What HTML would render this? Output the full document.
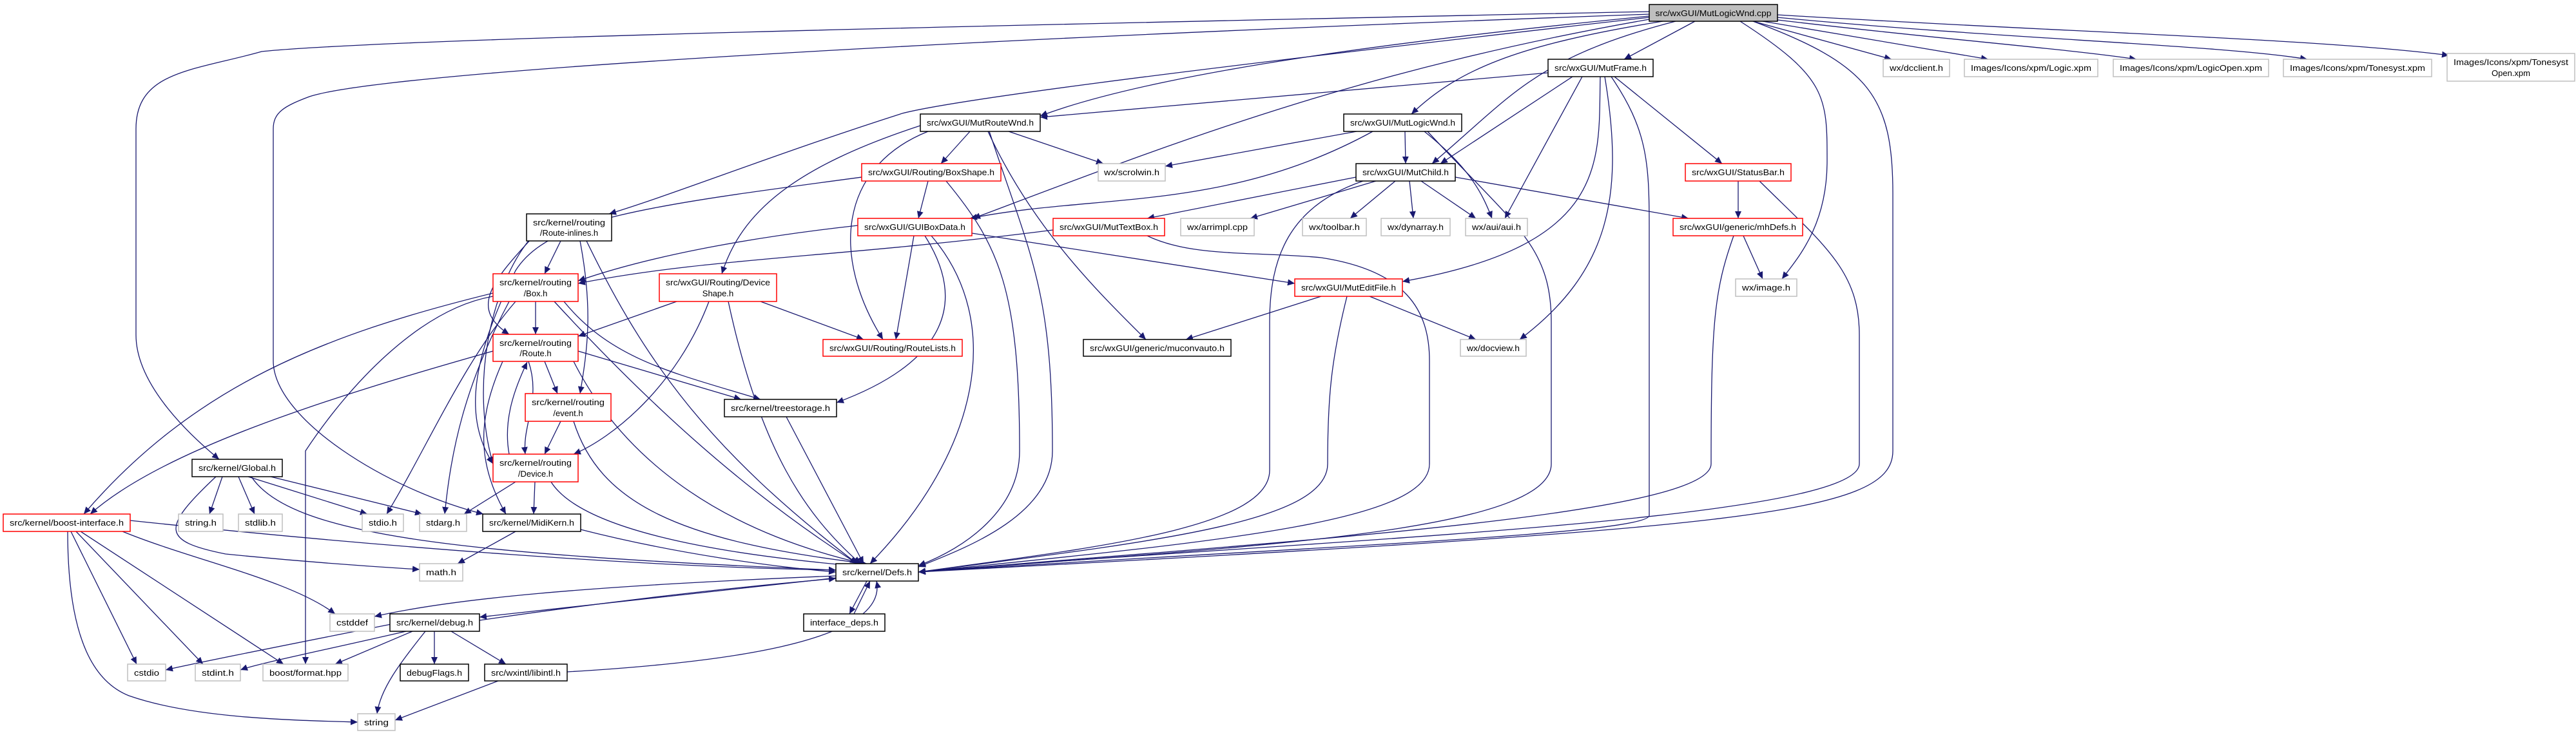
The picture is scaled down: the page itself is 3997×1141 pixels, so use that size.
<!DOCTYPE html>
<html><head><meta charset="utf-8"><style>
html,body{margin:0;padding:0;background:#fff}
svg{display:block}
text{font-family:"Liberation Sans",sans-serif;font-size:13px;fill:#000}
.e{fill:none;stroke:#191970;stroke-width:1.3}
.k{fill:#fff;stroke:#000;stroke-width:1.5}
.r{fill:#fff;stroke:#ff0000;stroke-width:1.5}
.g{fill:#fff;stroke:#bfbfbf;stroke-width:1.5}
</style></head><body>
<svg width="3997" height="1141" viewBox="0 0 3997 1141" xmlns="http://www.w3.org/2000/svg">
<defs><marker id="a" markerUnits="userSpaceOnUse" markerWidth="12" markerHeight="10" refX="11" refY="5" orient="auto"><path d="M0,0 L11,5 L0,10 z" fill="#191970"/></marker></defs>
<g class="e" marker-end="url(#a)">
<!-- main -->
<path d="M2630,33 L2520,92"/>
<path d="M2559,25 C2200,60 1800,110 1614,180"/>
<path d="M2580,33 C2350,70 2260,110 2190,177"/>
<path d="M2600,33 C2380,90 2345,150 2222,254"/>
<path d="M2559,30 C2100,110 1800,230 1510,339"/>
<path d="M2559,27 C2000,90 1500,150 1400,176 C1200,240 1050,300 945,332"/>
<path d="M2559,18 C1500,40 600,60 406,80 C300,110 211,110 211,200 L211,520 C211,600 300,680 340,713"/>
<path d="M2559,22 C1500,60 600,110 480,150 C440,165 424,175 424,200 L424,560 C424,650 600,760 750,798"/>
<path d="M2720,33 C2900,100 2937,150 2937,300 L2937,700 C2937,800 2700,820 1425,888"/>
<path d="M2700,33 C2835,120 2835,150 2835,250 C2835,350 2790,400 2765,433"/>
<path d="M2720,33 L2935,92"/>
<path d="M2735,33 L3085,92"/>
<path d="M2750,30 C3000,60 3200,75 3315,92"/>
<path d="M2758,27 C3100,60 3450,70 3580,92"/>
<path d="M2758,23 C3200,50 3600,60 3800,86"/>
<!-- MutFrame -->
<path d="M2402,113 L1614,182"/>
<path d="M2440,119 L2235,254"/>
<path d="M2455,119 L2335,339"/>
<path d="M2483,119 C2480,250 2500,380 2176,437"/>
<path d="M2490,119 C2520,300 2500,420 2358,527"/>
<path d="M2505,119 L2672,254"/>
<path d="M2500,119 C2555,200 2559,250 2559,350 L2559,800 C2559,830 2000,850 1425,888"/>
<!-- MutRouteWnd -->
<path d="M1505,204 L1460,254"/>
<path d="M1565,204 L1712,254"/>
<path d="M1533,204 C1600,350 1700,450 1778,527"/>
<path d="M1428,195 C1230,260 1150,330 1120,425"/>
<path d="M1440,204 C1300,260 1290,400 1370,527"/>
<path d="M1535,204 C1600,400 1633,450 1633,700 C1633,800 1500,850 1425,880"/>
<!-- MutLogicWnd -->
<path d="M2105,204 L1808,258"/>
<path d="M2130,204 C1900,330 1700,300 1505,339"/>
<path d="M2180,204 L2181,254"/>
<path d="M2210,204 C2280,260 2300,300 2315,339"/>
<path d="M2215,204 C2350,350 2407,380 2407,500 L2407,720 C2407,830 1900,850 1425,888"/>
<!-- MutChild -->
<path d="M2104,275 L1780,339"/>
<path d="M2135,281 L1940,339"/>
<path d="M2165,281 L2095,339"/>
<path d="M2187,281 L2193,339"/>
<path d="M2205,281 L2290,339"/>
<path d="M2258,275 L2620,339"/>
<path d="M2115,281 C2000,320 1970,400 1970,500 L1970,730 C1970,820 1700,850 1425,888"/>
<!-- BoxShape -->
<path d="M1440,281 L1425,339"/>
<path d="M1468,281 C1550,380 1582,450 1582,700 C1582,790 1500,850 1425,878"/>
<path d="M1337,275 C1000,320 850,340 800,420 C730,560 720,650 765,720"/>
<!-- StatusBar / mhDefs -->
<path d="M2697,281 L2697,339"/>
<path d="M2730,281 C2830,380 2885,420 2885,520 L2885,720 C2885,810 2000,840 1425,888"/>
<path d="M2705,366 L2735,433"/>
<path d="M2690,366 C2660,450 2655,500 2655,720 C2655,800 2000,840 1425,888"/>
<!-- MutTextBox -->
<path d="M1634,357 C1300,400 1100,400 897,440"/>
<path d="M1780,366 C1850,400 1950,390 2050,400 C2180,420 2218,480 2218,560 L2218,720 C2218,810 1900,840 1425,888"/>
<!-- GUIBoxData -->
<path d="M1331,350 C1150,370 1000,400 897,436"/>
<path d="M1508,362 L2009,440"/>
<path d="M1418,366 L1390,527"/>
<path d="M1435,366 C1520,500 1420,580 1298,625"/>
<path d="M1445,366 C1560,500 1520,700 1350,875"/>
<!-- MutEditFile -->
<path d="M2050,460 L1840,527"/>
<path d="M2125,460 L2290,527"/>
<path d="M2090,460 C2065,560 2060,620 2060,720 C2060,810 1800,840 1425,888"/>
<!-- Route-inlines -->
<path d="M870,374 L845,425"/>
<path d="M825,370 C760,440 730,480 790,519"/>
<path d="M900,374 C920,480 912,540 900,611"/>
<path d="M820,374 C760,450 730,600 765,720"/>
<path d="M910,374 C1000,560 1100,700 1330,875"/>
<!-- Box.h -->
<path d="M831,468 L831,519"/>
<path d="M765,455 C500,520 300,600 130,798"/>
<path d="M765,460 C650,480 540,600 474,700 L474,1031"/>
<path d="M800,468 C720,560 660,700 600,798"/>
<path d="M790,468 C720,600 700,700 690,798"/>
<path d="M875,468 C950,560 1050,580 1180,620"/>
<path d="M860,468 C1000,620 1150,760 1330,875"/>
<!-- DeviceShape -->
<path d="M1050,468 L897,522"/>
<path d="M1180,468 L1340,527"/>
<path d="M1100,468 C1050,600 950,680 890,705"/>
<path d="M1130,468 C1180,700 1250,800 1335,875"/>
<!-- Route.h -->
<path d="M845,561 L865,611"/>
<path d="M897,545 L1150,620"/>
<path d="M765,545 C500,620 250,700 140,798"/>
<path d="M890,561 C960,700 1100,820 1340,875"/>
<path d="M820,561 C840,620 810,660 815,705"/>
<path d="M780,561 C740,650 740,720 785,798"/>
<path d="M790,705 C780,650 800,600 818,562"/>
<!-- event.h -->
<path d="M870,654 L845,705"/>
<path d="M890,654 C930,780 1050,840 1345,875"/>
<path d="M1220,647 L1340,875"/>
<!-- Device.h -->
<path d="M800,748 L720,798"/>
<path d="M830,748 L828,798"/>
<path d="M855,748 C900,820 1100,860 1345,880"/>
<!-- Global.h -->
<path d="M345,740 L325,798"/>
<path d="M370,740 L395,798"/>
<path d="M385,740 L570,798"/>
<path d="M420,740 L655,798"/>
<path d="M335,740 C250,820 250,840 350,860 C450,870 550,878 651,884"/>
<path d="M390,740 C450,830 700,860 1297,885"/>
<!-- boost-interface -->
<path d="M202,808 C600,850 1000,880 1297,885"/>
<path d="M190,825 C300,870 450,900 520,953"/>
<path d="M110,825 L212,1031"/>
<path d="M118,825 L315,1031"/>
<path d="M125,825 L440,1031"/>
<path d="M105,825 C105,1000 150,1060 200,1080 C300,1115 450,1118 555,1121"/>
<!-- MidiKern -->
<path d="M800,825 L710,875"/>
<path d="M901,822 C1050,860 1200,880 1297,888"/>
<!-- Defs -->
<path d="M1297,894 C900,910 700,930 581,957"/>
<path d="M1297,897 C1100,920 900,940 744,958"/>
<path d="M1345,902 L1318,953"/>
<path d="M744,963 C900,940 1100,915 1297,898"/>
<path d="M1325,953 L1350,902"/>
<!-- debug.h -->
<path d="M612,968 C450,1000 300,1030 257,1040"/>
<path d="M630,980 C500,1010 400,1030 373,1040"/>
<path d="M640,980 L520,1031"/>
<path d="M660,980 C620,1030 590,1070 585,1108"/>
<path d="M674,980 L674,1031"/>
<path d="M700,980 L785,1031"/>
<!-- libintl -->
<path d="M880,1043 C1100,1030 1380,1000 1360,902"/>
<path d="M773,1057 L613,1118"/>
</g>
<!-- nodes -->
<rect x="2559" y="7" width="199" height="26" fill="#bfbfbf" stroke="#000" stroke-width="1.5"/><text x="2658.5" y="25" text-anchor="middle" textLength="180" lengthAdjust="spacingAndGlyphs">src/wxGUI/MutLogicWnd.cpp</text>
<g>
<rect class="k" x="2402" y="92" width="163" height="27"/><text x="2483.5" y="110" text-anchor="middle" textLength="143" lengthAdjust="spacingAndGlyphs">src/wxGUI/MutFrame.h</text>
<rect class="k" x="1428" y="177" width="186" height="27"/><text x="1521" y="195" text-anchor="middle" textLength="166" lengthAdjust="spacingAndGlyphs">src/wxGUI/MutRouteWnd.h</text>
<rect class="k" x="2085" y="177" width="183" height="27"/><text x="2176.5" y="195" text-anchor="middle" textLength="163" lengthAdjust="spacingAndGlyphs">src/wxGUI/MutLogicWnd.h</text>
<rect class="r" x="1337" y="254" width="216" height="27"/><text x="1445" y="272" text-anchor="middle" textLength="196" lengthAdjust="spacingAndGlyphs">src/wxGUI/Routing/BoxShape.h</text>
<rect class="g" x="1704" y="254" width="104" height="27"/><text x="1756" y="272" text-anchor="middle" textLength="86" lengthAdjust="spacingAndGlyphs">wx/scrolwin.h</text>
<rect class="k" x="2104" y="254" width="154" height="27"/><text x="2181" y="272" text-anchor="middle" textLength="134" lengthAdjust="spacingAndGlyphs">src/wxGUI/MutChild.h</text>
<rect class="r" x="2615" y="254" width="164" height="27"/><text x="2697" y="272" text-anchor="middle" textLength="144" lengthAdjust="spacingAndGlyphs">src/wxGUI/StatusBar.h</text>
<rect class="r" x="1331" y="339" width="177" height="27"/><text x="1419.5" y="357" text-anchor="middle" textLength="157" lengthAdjust="spacingAndGlyphs">src/wxGUI/GUIBoxData.h</text>
<rect class="r" x="1634" y="339" width="173" height="27"/><text x="1720.5" y="357" text-anchor="middle" textLength="153" lengthAdjust="spacingAndGlyphs">src/wxGUI/MutTextBox.h</text>
<rect class="g" x="1832" y="339" width="114" height="27"/><text x="1889" y="357" text-anchor="middle" textLength="94" lengthAdjust="spacingAndGlyphs">wx/arrimpl.cpp</text>
<rect class="g" x="2021" y="339" width="99" height="27"/><text x="2070.5" y="357" text-anchor="middle" textLength="79" lengthAdjust="spacingAndGlyphs">wx/toolbar.h</text>
<rect class="g" x="2143" y="339" width="107" height="27"/><text x="2196.5" y="357" text-anchor="middle" textLength="87" lengthAdjust="spacingAndGlyphs">wx/dynarray.h</text>
<rect class="g" x="2274" y="339" width="96" height="27"/><text x="2322" y="357" text-anchor="middle" textLength="76" lengthAdjust="spacingAndGlyphs">wx/aui/aui.h</text>
<rect class="r" x="2596" y="339" width="201" height="27"/><text x="2696.5" y="357" text-anchor="middle" textLength="181" lengthAdjust="spacingAndGlyphs">src/wxGUI/generic/mhDefs.h</text>
<rect class="k" x="817" y="332" width="132" height="42"/><text x="883" y="350" text-anchor="middle" textLength="112" lengthAdjust="spacingAndGlyphs">src/kernel/routing</text><text x="883" y="366" text-anchor="middle">/Route-inlines.h</text>
<rect class="r" x="765" y="425" width="132" height="43"/><text x="831" y="443" text-anchor="middle" textLength="112" lengthAdjust="spacingAndGlyphs">src/kernel/routing</text><text x="831" y="460" text-anchor="middle">/Box.h</text>
<rect class="r" x="1023" y="425" width="182" height="43"/><text x="1114" y="443" text-anchor="middle" textLength="162" lengthAdjust="spacingAndGlyphs">src/wxGUI/Routing/Device</text><text x="1114" y="460" text-anchor="middle">Shape.h</text>
<rect class="r" x="2009" y="433" width="167" height="27"/><text x="2092.5" y="451" text-anchor="middle" textLength="147" lengthAdjust="spacingAndGlyphs">src/wxGUI/MutEditFile.h</text>
<rect class="g" x="2693" y="433" width="95" height="27"/><text x="2740.5" y="451" text-anchor="middle" textLength="75" lengthAdjust="spacingAndGlyphs">wx/image.h</text>
<rect class="r" x="765" y="519" width="132" height="42"/><text x="831" y="537" text-anchor="middle" textLength="112" lengthAdjust="spacingAndGlyphs">src/kernel/routing</text><text x="831" y="553" text-anchor="middle">/Route.h</text>
<rect class="r" x="1277" y="527" width="216" height="26"/><text x="1385" y="545" text-anchor="middle" textLength="196" lengthAdjust="spacingAndGlyphs">src/wxGUI/Routing/RouteLists.h</text>
<rect class="k" x="1681" y="527" width="229" height="26"/><text x="1795.5" y="545" text-anchor="middle" textLength="209" lengthAdjust="spacingAndGlyphs">src/wxGUI/generic/muconvauto.h</text>
<rect class="g" x="2266" y="527" width="102" height="26"/><text x="2317" y="545" text-anchor="middle" textLength="82" lengthAdjust="spacingAndGlyphs">wx/docview.h</text>
<rect class="r" x="815" y="611" width="133" height="43"/><text x="881.5" y="629" text-anchor="middle" textLength="113" lengthAdjust="spacingAndGlyphs">src/kernel/routing</text><text x="881.5" y="646" text-anchor="middle">/event.h</text>
<rect class="k" x="1124" y="620" width="174" height="27"/><text x="1211" y="638" text-anchor="middle" textLength="154" lengthAdjust="spacingAndGlyphs">src/kernel/treestorage.h</text>
<rect class="r" x="765" y="705" width="132" height="43"/><text x="831" y="723" text-anchor="middle" textLength="112" lengthAdjust="spacingAndGlyphs">src/kernel/routing</text><text x="831" y="740" text-anchor="middle">/Device.h</text>
<rect class="k" x="298" y="713" width="140" height="27"/><text x="368" y="731" text-anchor="middle" textLength="120" lengthAdjust="spacingAndGlyphs">src/kernel/Global.h</text>
<rect class="r" x="5" y="798" width="197" height="27"/><text x="103.5" y="816" text-anchor="middle" textLength="177" lengthAdjust="spacingAndGlyphs">src/kernel/boost-interface.h</text>
<rect class="g" x="277" y="798" width="69" height="27"/><text x="311.5" y="816" text-anchor="middle" textLength="49" lengthAdjust="spacingAndGlyphs">string.h</text>
<rect class="g" x="370" y="798" width="68" height="27"/><text x="404" y="816" text-anchor="middle" textLength="48" lengthAdjust="spacingAndGlyphs">stdlib.h</text>
<rect class="g" x="562" y="798" width="64" height="27"/><text x="594" y="816" text-anchor="middle" textLength="44" lengthAdjust="spacingAndGlyphs">stdio.h</text>
<rect class="g" x="651" y="798" width="73" height="27"/><text x="687.5" y="816" text-anchor="middle" textLength="53" lengthAdjust="spacingAndGlyphs">stdarg.h</text>
<rect class="k" x="749" y="798" width="152" height="27"/><text x="825" y="816" text-anchor="middle" textLength="132" lengthAdjust="spacingAndGlyphs">src/kernel/MidiKern.h</text>
<rect class="g" x="651" y="875" width="67" height="27"/><text x="684.5" y="893" text-anchor="middle" textLength="47" lengthAdjust="spacingAndGlyphs">math.h</text>
<rect class="k" x="1297" y="875" width="128" height="27"/><text x="1361" y="893" text-anchor="middle" textLength="108" lengthAdjust="spacingAndGlyphs">src/kernel/Defs.h</text>
<rect class="g" x="512" y="953" width="69" height="27"/><text x="546.5" y="971" text-anchor="middle" textLength="49" lengthAdjust="spacingAndGlyphs">cstddef</text>
<rect class="k" x="605" y="953" width="139" height="27"/><text x="674.5" y="971" text-anchor="middle" textLength="119" lengthAdjust="spacingAndGlyphs">src/kernel/debug.h</text>
<rect class="k" x="1247" y="953" width="126" height="27"/><text x="1310" y="971" text-anchor="middle" textLength="106" lengthAdjust="spacingAndGlyphs">interface_deps.h</text>
<rect class="g" x="198" y="1031" width="59" height="26"/><text x="227.5" y="1049" text-anchor="middle" textLength="39" lengthAdjust="spacingAndGlyphs">cstdio</text>
<rect class="g" x="303" y="1031" width="70" height="26"/><text x="338" y="1049" text-anchor="middle" textLength="50" lengthAdjust="spacingAndGlyphs">stdint.h</text>
<rect class="g" x="408" y="1031" width="132" height="26"/><text x="474" y="1049" text-anchor="middle" textLength="112" lengthAdjust="spacingAndGlyphs">boost/format.hpp</text>
<rect class="k" x="621" y="1031" width="106" height="26"/><text x="674" y="1049" text-anchor="middle" textLength="86" lengthAdjust="spacingAndGlyphs">debugFlags.h</text>
<rect class="k" x="752" y="1031" width="128" height="26"/><text x="816" y="1049" text-anchor="middle" textLength="108" lengthAdjust="spacingAndGlyphs">src/wxintl/libintl.h</text>
<rect class="g" x="555" y="1108" width="58" height="26"/><text x="584" y="1126" text-anchor="middle" textLength="38" lengthAdjust="spacingAndGlyphs">string</text>
<rect class="g" x="2922" y="92" width="103" height="27"/><text x="2973.5" y="110" text-anchor="middle" textLength="83" lengthAdjust="spacingAndGlyphs">wx/dcclient.h</text>
<rect class="g" x="3048" y="92" width="207" height="27"/><text x="3151.5" y="110" text-anchor="middle" textLength="187" lengthAdjust="spacingAndGlyphs">Images/Icons/xpm/Logic.xpm</text>
<rect class="g" x="3279" y="92" width="241" height="27"/><text x="3399.5" y="110" text-anchor="middle" textLength="221" lengthAdjust="spacingAndGlyphs">Images/Icons/xpm/LogicOpen.xpm</text>
<rect class="g" x="3543" y="92" width="230" height="27"/><text x="3658" y="110" text-anchor="middle" textLength="210" lengthAdjust="spacingAndGlyphs">Images/Icons/xpm/Tonesyst.xpm</text>
<rect class="g" x="3797" y="83" width="198" height="43"/><text x="3896" y="101" text-anchor="middle" textLength="178" lengthAdjust="spacingAndGlyphs">Images/Icons/xpm/Tonesyst</text><text x="3896" y="118" text-anchor="middle">Open.xpm</text>
</g>
</svg>
</body></html>
